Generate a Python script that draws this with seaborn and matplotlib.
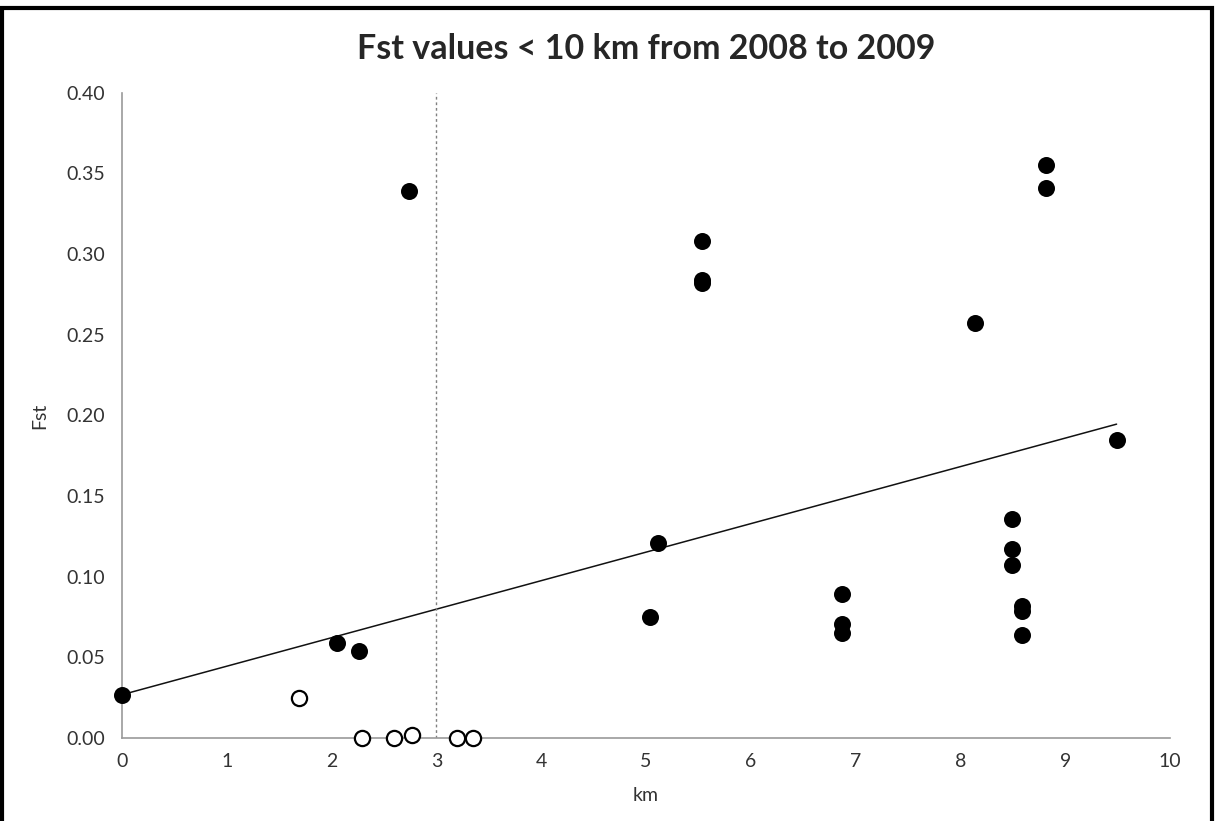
import numpy as np
import pandas as pd
import matplotlib
matplotlib.use("Agg")
import matplotlib.pyplot as plt
import seaborn as sns

# --- data ---
# filled points (significant)
km_sig = [0.00, 2.05, 2.26, 2.74, 5.04, 5.11, 5.53, 5.53, 5.53,
          6.87, 6.87, 6.87, 8.14, 8.49, 8.49, 8.49, 8.59, 8.59, 8.59,
          8.82, 8.82, 9.49]
fst_sig = [0.027, 0.059, 0.054, 0.339, 0.075, 0.121, 0.308, 0.284, 0.282,
           0.089, 0.071, 0.065, 0.257, 0.136, 0.117, 0.107, 0.082, 0.079, 0.064,
           0.355, 0.341, 0.185]
# open points (not significant)
km_ns = [1.69, 2.29, 2.60, 2.77, 3.20, 3.35]
fst_ns = [0.025, 0.000, 0.000, 0.002, 0.000, 0.000]

cutoff_km = 3
x_ticks = list(range(0, 11))
y_ticks = [0.00, 0.05, 0.10, 0.15, 0.20, 0.25, 0.30, 0.35, 0.40]

sig = pd.DataFrame({"km": km_sig, "Fst": fst_sig})
ns = pd.DataFrame({"km": km_ns, "Fst": fst_ns})
both = pd.concat([sig, ns], ignore_index=True)

sns.set_style("white")
plt.rcParams['font.family'] = ['Lato', 'DejaVu Sans']

fig = plt.figure(figsize=(12.16, 8.21), dpi=100)
ax = fig.add_axes([0.1003, 0.101, 0.8619, 0.786])

# trend line over all points
sns.regplot(data=both, x="km", y="Fst", scatter=False, ci=None, ax=ax,
            line_kws={"color": "#111111", "lw": 1.1})

# cut-off line
ax.vlines(cutoff_km, 0, 0.40, colors="#808080", linestyles=(0, (2, 2)), lw=1.0)

sns.scatterplot(data=ns, x="km", y="Fst", ax=ax, s=120, color="white",
                edgecolor="black", linewidth=1.6, zorder=4, clip_on=False)
sns.scatterplot(data=sig, x="km", y="Fst", ax=ax, s=150, color="black",
                edgecolor="black", linewidth=0, zorder=5, clip_on=False)

ax.set_xlim(0, 10)
ax.set_ylim(0, 0.40)
ax.set_xticks(x_ticks)
ax.set_yticks(y_ticks)
ax.set_yticklabels([f"{v:.2f}" for v in y_ticks])
ax.tick_params(axis="both", direction="out", length=5, width=1, color="#9a9a9a",
               labelsize=14, labelcolor="#333333")
ax.tick_params(axis="y", pad=7)
ax.tick_params(axis="x", pad=6)
for side in ["top", "right"]:
    ax.spines[side].set_visible(False)
for side in ["left", "bottom"]:
    ax.spines[side].set_color("#9a9a9a")
    ax.spines[side].set_linewidth(1.2)

ax.set_xlabel("km", fontsize=14, color="#333333", labelpad=12)
ax.set_ylabel("Fst", fontsize=14, color="#333333", labelpad=13)
fig.suptitle("Fst values < 10 km from 2008 to 2009", fontsize=24.5,
             fontweight="bold", x=0.531, y=0.940, va="center")

# frame around the whole picture
fig.patches.append(plt.Rectangle((0.002, -0.01), 0.995, 1.0, transform=fig.transFigure,
                                 fill=False, edgecolor="black", lw=3))

fig.savefig("out.png", dpi=100)
